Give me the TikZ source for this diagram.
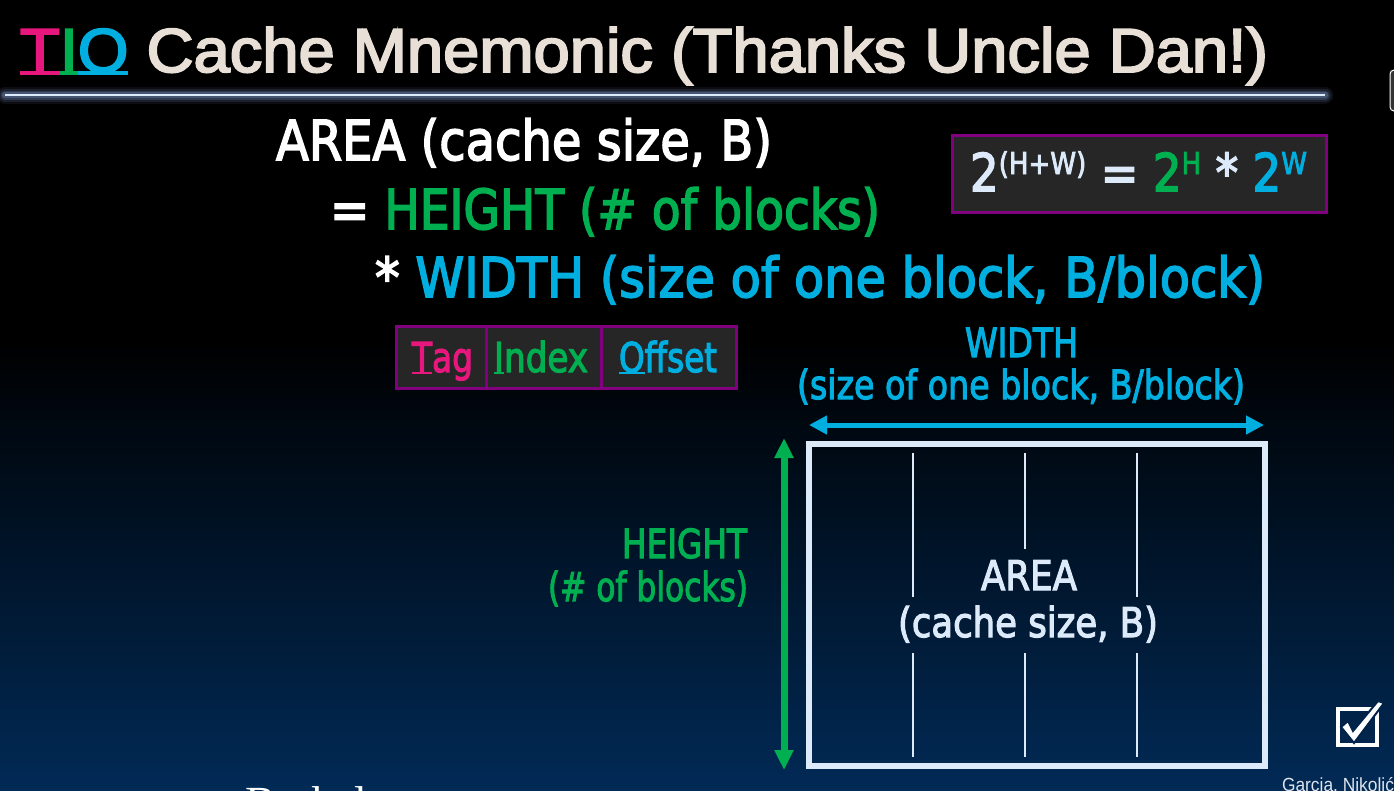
\documentclass[tikz,border=0pt]{standalone}
\usepackage{fontspec}
\usepackage{graphicx}
\usetikzlibrary{arrows.meta}
\setmainfont{DejaVu Sans}[FakeBold=3]
\newfontfamily\titlefont{Liberation Sans}[FakeBold=3]
\newfontfamily\smallfont{Liberation Sans}
\newfontfamily\logofont{Liberation Serif}

\definecolor{ttlbeige}{HTML}{E8E0D6}
\definecolor{mpink}{HTML}{E8177D}
\definecolor{mgreen}{HTML}{00B050}
\definecolor{mcyan}{HTML}{00AEDF}
\definecolor{paleblue}{HTML}{DCEAFA}
\definecolor{boxgray}{HTML}{262626}
\definecolor{boxpurple}{HTML}{800080}
\definecolor{navy}{HTML}{012A56}
\definecolor{checkbg}{HTML}{012249}
\definecolor{glow}{HTML}{5B7096}
\definecolor{credit}{HTML}{DDE4EC}

% letter with an underline in the same colour
\newlength\ulw
\newcommand\ulx[2]{\settowidth\ulw{#2}\textcolor{#1}{\rlap{\rule[-0.045em]{\ulw}{0.055em}}#2}}
% squeeze a line of text to a given width, keeping its height
\newcommand\fitw[2]{\resizebox{#1}{\height}{#2}}
\newcommand\fs[1]{\fontsize{#1}{#1}\selectfont}

\begin{document}
\begin{tikzpicture}[x=1pt,y=-1pt,
  txt/.style={inner sep=0pt, outer sep=0pt},
  panel/.style={draw=boxpurple, line width=3pt, fill=boxgray, inner sep=0pt},
  colline/.style={draw=paleblue, line width=2pt},
]
\useasboundingbox (0,0) rectangle (1394,790);
\clip (0,0) rectangle (1394,790);

% background: black fading into navy towards the bottom
\fill[black] (0,0) rectangle (1394,790);
\shade[top color=black, bottom color=navy] (0,340) rectangle (1394,790);

% side tab at the right edge
\draw[fill=black!80, draw=white!22, line width=1pt, rounded corners=4pt] (1390,70) rectangle (1412,111);

% title and glowing rule beneath it
\node[txt, anchor=base west, text=ttlbeige] (title) at (20,72)
  {\fitw{1248pt}{\titlefont\fs{62}\ulx{mpink}{T}\ulx{mgreen}{I}\ulx{mcyan}{O} Cache Mnemonic (Thanks Uncle Dan!)}};
\coordinate (sepL) at (5,95);
\coordinate (sepR) at (1325,95);
\foreach \w/\o in {17/0.12, 13/0.2, 9/0.35, 6/0.5}
  \draw[glow, line width=\w pt, opacity=\o, line cap=round] (sepL) -- (sepR);
\draw[paleblue, line width=2.5pt] (sepL) -- (sepR);

% the equation
\node[txt, anchor=base west, text=white] (areaeq) at (276,160)
  {\fitw{496pt}{\fs{55}AREA (cache size, B)}};
\node[txt, anchor=base west] (heighteq) at (330,229)
  {\fitw{550pt}{\fs{55}\textcolor{white}{=} \textcolor{mgreen}{HEIGHT (\# of blocks)}}};
\node[txt, anchor=base west] (widtheq) at (375,297)
  {\fitw{890pt}{\fs{55}\textcolor{white}{*} \textcolor{mcyan}{WIDTH (size of one block, B/block)}}};

% powers-of-two box
\node[panel, minimum width=374pt, minimum height=77pt] (powbox) at (1139.5,174) {};
\node[txt, anchor=base west] (powtext) at (970,191)
  {\fitw{337pt}{\fs{52}\textcolor{paleblue}{2\raisebox{17pt}{\fs{30}(H+W)}} \textcolor{paleblue}{=} \textcolor{mgreen}{2\raisebox{17pt}{\fs{30}H}} \textcolor{paleblue}{*} \textcolor{mcyan}{2\raisebox{17pt}{\fs{30}W}}}};

% address fields
\node[panel, minimum width=89.5pt, minimum height=62pt] (tagcell) at (441.25,357.5) {};
\node[panel, minimum width=115pt, minimum height=62pt] (indexcell) at (543.5,357.5) {};
\node[panel, minimum width=135.5pt, minimum height=62pt] (offsetcell) at (668.75,357.5) {};
\node[txt, anchor=base] (tagtxt) at (442.5,372)
  {\fitw{61pt}{\fs{41}\ulx{mpink}{T}\textcolor{mpink}{ag}}};
\node[txt, anchor=base] (indextxt) at (541,372)
  {\fitw{94pt}{\fs{41}\ulx{mgreen}{I}\textcolor{mgreen}{ndex}}};
\node[txt, anchor=base] (offsettxt) at (668,372)
  {\fitw{98pt}{\fs{41}\ulx{mcyan}{O}\textcolor{mcyan}{ffset}}};

% width label and arrow
\node[txt, anchor=base, text=mcyan] (wlabA) at (1021.5,357) {\fitw{113pt}{\fs{40}WIDTH}};
\node[txt, anchor=base, text=mcyan] (wlabB) at (1021,399) {\fitw{448pt}{\fs{40}(size of one block, B/block)}};
\coordinate (wL) at (809,425);
\coordinate (wR) at (1264,425);
\draw[mcyan, line width=5pt, {Triangle[width=18pt,length=18pt]}-{Triangle[width=18pt,length=18pt]}] (wL) -- (wR);

% height label and arrow
\node[txt, anchor=base east, text=mgreen] (hlabA) at (747,558) {\fitw{125pt}{\fs{40}HEIGHT}};
\node[txt, anchor=base east, text=mgreen] (hlabB) at (748,601) {\fitw{200pt}{\fs{40}(\# of blocks)}};
\coordinate (hT) at (784,438);
\coordinate (hB) at (784,770);
\draw[mgreen, line width=7pt, {Triangle[width=18pt,length=20pt]}-{Triangle[width=18pt,length=20pt]}] (hT) -- (hB);

% the cache as a rectangle of blocks
\node[draw=paleblue, line width=6pt, minimum width=456pt, minimum height=322pt, inner sep=0pt] (cache) at (1037,605) {};
\draw[colline] (913,453) -- (913,597);
\draw[colline] (913,653) -- (913,757);
\draw[colline] (1025,453) -- (1025,549);
\draw[colline] (1025,653) -- (1025,757);
\draw[colline] (1137,453) -- (1137,597);
\draw[colline] (1137,653) -- (1137,757);
\node[txt, anchor=base, text=paleblue] (areaA) at (1029,590) {\fitw{96pt}{\fs{41}AREA}};
\node[txt, anchor=base, text=paleblue] (areaB) at (1028,637) {\fitw{260pt}{\fs{41}(cache size, B)}};

% check box
\draw[white, line width=4pt] (1337.5,709) rectangle (1377,745);
\filldraw[fill=white, draw=checkbg, line width=2pt]
  (1341,727) -- (1348,721) -- (1353,731) -- (1378,701) -- (1384,703) -- (1354,743) -- cycle;

% footer texts
\node[txt, anchor=base east, text=credit] (credits) at (1394,791) {\fitw{112pt}{\smallfont\fs{19}Garcia, Nikolić}};
\node[txt, anchor=base west, text=white] (logo) at (245,818) {\logofont\fs{46}Berkeley};
\end{tikzpicture}
\end{document}
